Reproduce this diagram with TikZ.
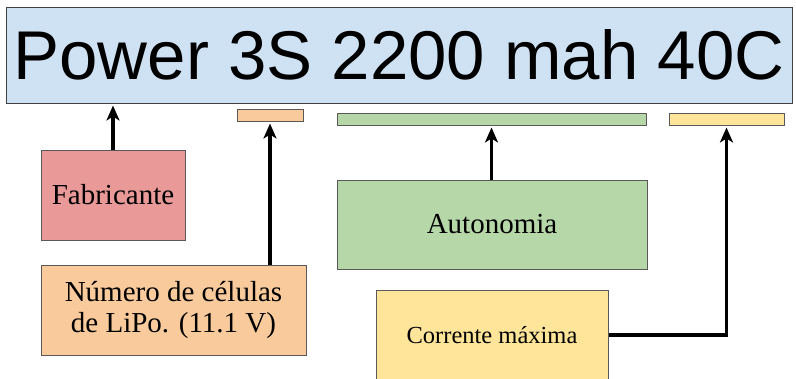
\documentclass[tikz,border=0pt]{standalone}
\usepackage{fontspec}
\setmainfont{Liberation Serif}
\newfontfamily\titlefont{Liberation Sans}
\usetikzlibrary{arrows.meta}
\definecolor{titlefill}{HTML}{CFE2F3}
\definecolor{redfill}{HTML}{EA9999}
\definecolor{orangefill}{HTML}{F9CB9C}
\definecolor{greenfill}{HTML}{B6D7A8}
\definecolor{yellowfill}{HTML}{FFE599}
\definecolor{edgegray}{HTML}{595959}
\tikzset{
  infobox/.style={draw=edgegray, line width=1pt, inner sep=0pt, align=center,
    font=\fontsize{29}{32}\selectfont},
  markbar/.style={draw=edgegray, line width=1pt, inner sep=0pt},
  pointer/.style={line width=3.4pt, -{Stealth[length=15pt,width=13pt,inset=4pt]}, shorten >=2pt}
}
\begin{document}
\begin{tikzpicture}[x=1pt,y=-1pt]
  \useasboundingbox (0,0) rectangle (796,378);
  \clip (0,0) rectangle (796,378);

  % battery label
  \node[draw=black!75, line width=1pt, fill=titlefill, minimum width=786pt, minimum height=96pt,
        inner sep=0pt, font=\titlefont\fontsize{69}{70}\selectfont]
        (title) at (399,55) {Power 3S 2200 mah 40C};

  % marker bars under the label
  \node[markbar, fill=orangefill, minimum width=66pt, minimum height=12pt] (barS) at (270,115) {};
  \node[markbar, fill=greenfill, minimum width=309pt, minimum height=12pt] (barmah) at (491.5,119) {};
  \node[markbar, fill=yellowfill, minimum width=115pt, minimum height=12pt] (barC) at (726.5,119) {};

  % explanation boxes
  \node[infobox, fill=redfill, minimum width=144pt, minimum height=90pt] (fab) at (113,195) {Fabricante};
  \node[infobox, fill=orangefill, minimum width=265pt, minimum height=90pt] (cells) at (173.5,310)
       {Número de células\\de LiPo. (11.1 V)};
  \node[infobox, fill=greenfill, minimum width=310pt, minimum height=89pt] (auto) at (492,224.5) {Autonomia};
  \node[infobox, fill=yellowfill, minimum width=232pt, minimum height=90pt,
        font=\fontsize{24.5}{28}\selectfont] (curr) at (492,335) {Corrente máxima};

  % connectors
  \draw[pointer] (fab.north) -- (fab.north |- title.south);
  \draw[pointer] (cells.north -| barS.south) -- (barS.south);
  \draw[pointer] (auto.north -| barmah.south) -- (barmah.south);
  \draw[pointer] (curr.east) -- (curr.east -| barC.south) -- (barC.south);
\end{tikzpicture}
\end{document}
